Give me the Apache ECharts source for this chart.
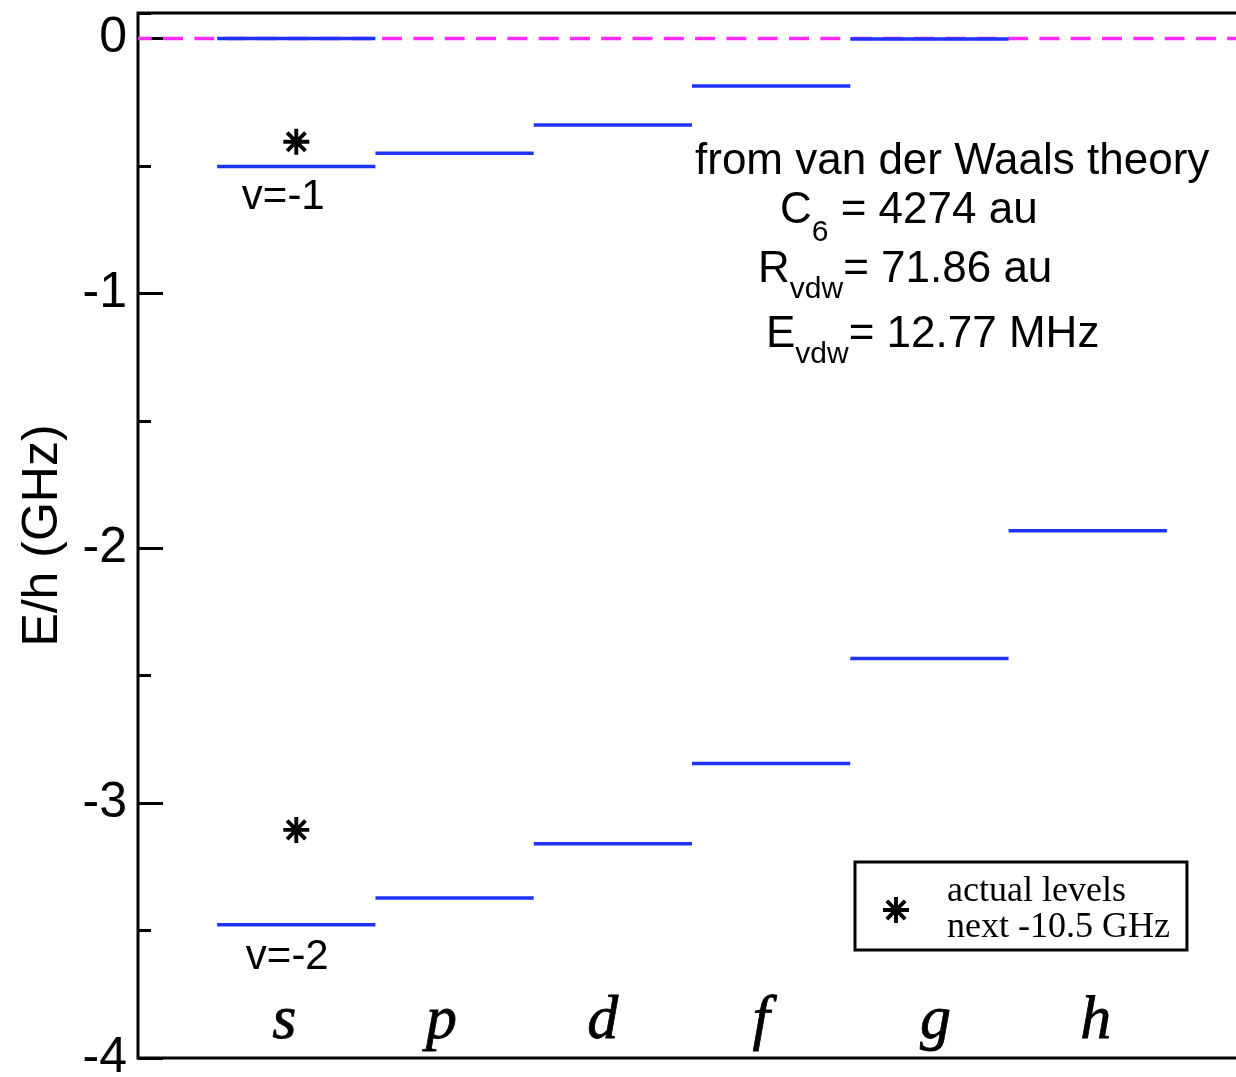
<!DOCTYPE html>
<html>
<head>
<meta charset="utf-8">
<title>vdW levels</title>
<script src="https://cdn.jsdelivr.net/npm/echarts@6.0.0/dist/echarts.min.js"></script>
<style>
  html, body { margin: 0; padding: 0; background: #fff; }
  #main { width: 1236px; height: 1077px; }
</style>
</head>
<body>
<div id="main"></div>
<script>
// partial waves, one column each
var categories = ["s", "p", "d", "f", "g", "h"];
// E/h in GHz per partial wave (null = no level)
var thresholdLevels = [0, null, null, null, -0.002, null];
var levelsV1 = [-0.502, -0.450, -0.339, -0.186, null, null];
var levelsV2 = [-3.477, -3.372, -3.159, -2.845, -2.433, -1.931];
// actual s levels (next -10.5 GHz)
var actualS = [-0.405, -3.105];
var levelNotes = ["v=-1", "v=-2"];
var threshold = 0;
var xMin = -1, xMax = 6;

// small horizontal nudges of the italic column letters (px)
var letterNudge = [-12, -13, -10, -10, 6, 8];
var noteOffsets = [[-13, 31], [-9, 33]];

function toLevels(arr) {
  var out = [];
  arr.forEach(function (v, i) {
    if (v !== null) out.push([i, v]);
  });
  return out;
}

// 8 armed asterisk like the xmgrace symbol
function asteriskPath() {
  var w = 0.15, parts = [];
  [0, 45, 90, 135].forEach(function (deg) {
    var t = deg * Math.PI / 180, c = Math.cos(t), s = Math.sin(t);
    var pts = [[-1, -w], [1, -w], [1, w], [-1, w]].map(function (p) {
      return (p[0] * c - p[1] * s).toFixed(3) + " " + (p[0] * s + p[1] * c).toFixed(3);
    });
    parts.push("M" + pts.join(" L") + " Z");
  });
  return "path://" + parts.join(" ");
}

function renderLevel(params, api) {
  var x = api.value(0), e = api.value(1);
  var a = api.coord([x - 0.5, e]);
  var b = api.coord([x + 0.5, e]);
  return {
    type: "line",
    shape: { x1: a[0], y1: a[1], x2: b[0], y2: b[1] },
    style: { stroke: "#1f33ff", lineWidth: 3.5 }
  };
}

var sans = "Liberation Sans";
var serif = "Liberation Serif";
var star = asteriskPath();
var levelData = toLevels(thresholdLevels).concat(toLevels(levelsV1), toLevels(levelsV2));

var letterRich = {};
letterNudge.forEach(function (n, i) {
  letterRich["c" + i] = {
    fontFamily: serif, fontStyle: "italic", fontSize: 62, color: "#000",
    textBorderColor: "#000", textBorderWidth: 0.8,
    padding: n < 0 ? [0, -2 * n, 0, 0] : [0, 0, 0, 2 * n]
  };
});

var myChart = echarts.init(document.getElementById("main"));

var option = {
  backgroundColor: "#fff",
  animation: false,
  grid: {
    left: 138, right: -10, top: 13, bottom: 19,
    show: true, borderColor: "#000", borderWidth: 3,
    outerBoundsMode: "none"
  },
  legend: {
    orient: "vertical",
    left: 855, top: 862,
    padding: [12, 17, 4, 28],
    borderColor: "#000", borderWidth: 3,
    itemWidth: 26, itemHeight: 26,
    selectedMode: false,
    data: [{ name: "actual levels", icon: star }],
    formatter: function () {
      return "actual levels\nnext -10.5 GHz";
    },
    textStyle: { fontFamily: serif, fontSize: 36, lineHeight: 36, color: "#000", padding: [0, 0, 0, 33] }
  },
  xAxis: {
    type: "value", min: xMin, max: xMax, interval: 1,
    axisLine: { show: false }, axisTick: { show: false }, splitLine: { show: false },
    axisLabel: {
      inside: true, margin: 5,
      fontFamily: serif, fontStyle: "italic", fontSize: 62, color: "#000",
      rich: letterRich,
      formatter: function (v) {
        var i = Math.round(v);
        return categories[i] ? "{c" + i + "|" + categories[i] + "}" : "";
      }
    }
  },
  yAxis: [
    {
      type: "value", min: -4, max: 0.1, interval: 1,
      name: "E/h (GHz)", nameLocation: "middle", nameGap: 70,
      nameTextStyle: { fontFamily: sans, fontSize: 50, color: "#000" },
      axisLine: { show: false, onZero: false }, splitLine: { show: false },
      axisTick: { inside: true, length: 25, lineStyle: { color: "#000", width: 3 } },
      axisLabel: {
        margin: 11, fontFamily: sans, fontSize: 50, color: "#000", showMaxLabel: false,
        formatter: function (v) { return Number.isInteger(v) ? String(v) : ""; }
      }
    },
    {
      // half-GHz minor ticks
      type: "value", min: -4, max: 0.1, interval: 0.5, position: "left",
      axisLine: { show: false, onZero: false }, splitLine: { show: false }, axisLabel: { show: false },
      axisTick: { inside: true, length: 13, lineStyle: { color: "#000", width: 3 } }
    }
  ],
  graphic: [
    {
      type: "text", x: 695, y: 162,
      style: { text: "from van der Waals theory", fontFamily: sans, fontSize: 44, fill: "#000", verticalAlign: "middle" }
    },
    {
      type: "text", x: 780, y: 211,
      style: {
        text: "{m|C}{s|6}{m| = 4274 au}", fill: "#000", verticalAlign: "middle",
        rich: { m: { fontFamily: sans, fontSize: 44 }, s: { fontFamily: sans, fontSize: 30, padding: [44, 0, 0, 0] } }
      }
    },
    {
      type: "text", x: 758, y: 270,
      style: {
        text: "{m|R}{s|vdw}{m|= 71.86 au}", fill: "#000", verticalAlign: "middle",
        rich: { m: { fontFamily: sans, fontSize: 44 }, s: { fontFamily: sans, fontSize: 30, padding: [40, 0, 0, 0] } }
      }
    },
    {
      type: "text", x: 766, y: 335,
      style: {
        text: "{m|E}{s|vdw}{m|= 12.77 MHz}", fill: "#000", verticalAlign: "middle",
        rich: { m: { fontFamily: sans, fontSize: 44 }, s: { fontFamily: sans, fontSize: 30, padding: [40, 0, 0, 0] } }
      }
    }
  ],
  series: [
    {
      // threshold, dashed magenta
      type: "line", silent: true, z: 1,
      data: [[xMin, threshold], [xMax, threshold]],
      symbol: "none",
      lineStyle: { color: "#ff2bff", width: 3.5, type: [20, 11.3], dashOffset: 6.3 }
    },
    {
      type: "custom", z: 2, silent: true,
      renderItem: renderLevel,
      encode: { x: 0, y: 1 },
      data: levelData
    },
    {
      type: "scatter", name: "actual levels", z: 4, silent: true,
      symbol: star, symbolSize: 26,
      itemStyle: { color: "#000", opacity: 1 },
      data: actualS.map(function (v) { return [0, v]; })
    },
    {
      // v labels under the s levels
      type: "scatter", z: 4, silent: true,
      symbolSize: 0, itemStyle: { color: "#000", opacity: 1 },
      data: [[0, levelsV1[0]], [0, levelsV2[0]]].map(function (d, i) {
        return { value: d, label: { offset: noteOffsets[i] } };
      }),
      label: {
        show: true, position: "inside",
        fontFamily: sans, fontSize: 42, color: "#000",
        formatter: function (p) { return levelNotes[p.dataIndex]; }
      }
    }
  ]
};

myChart.setOption(option);
</script>
</body>
</html>
